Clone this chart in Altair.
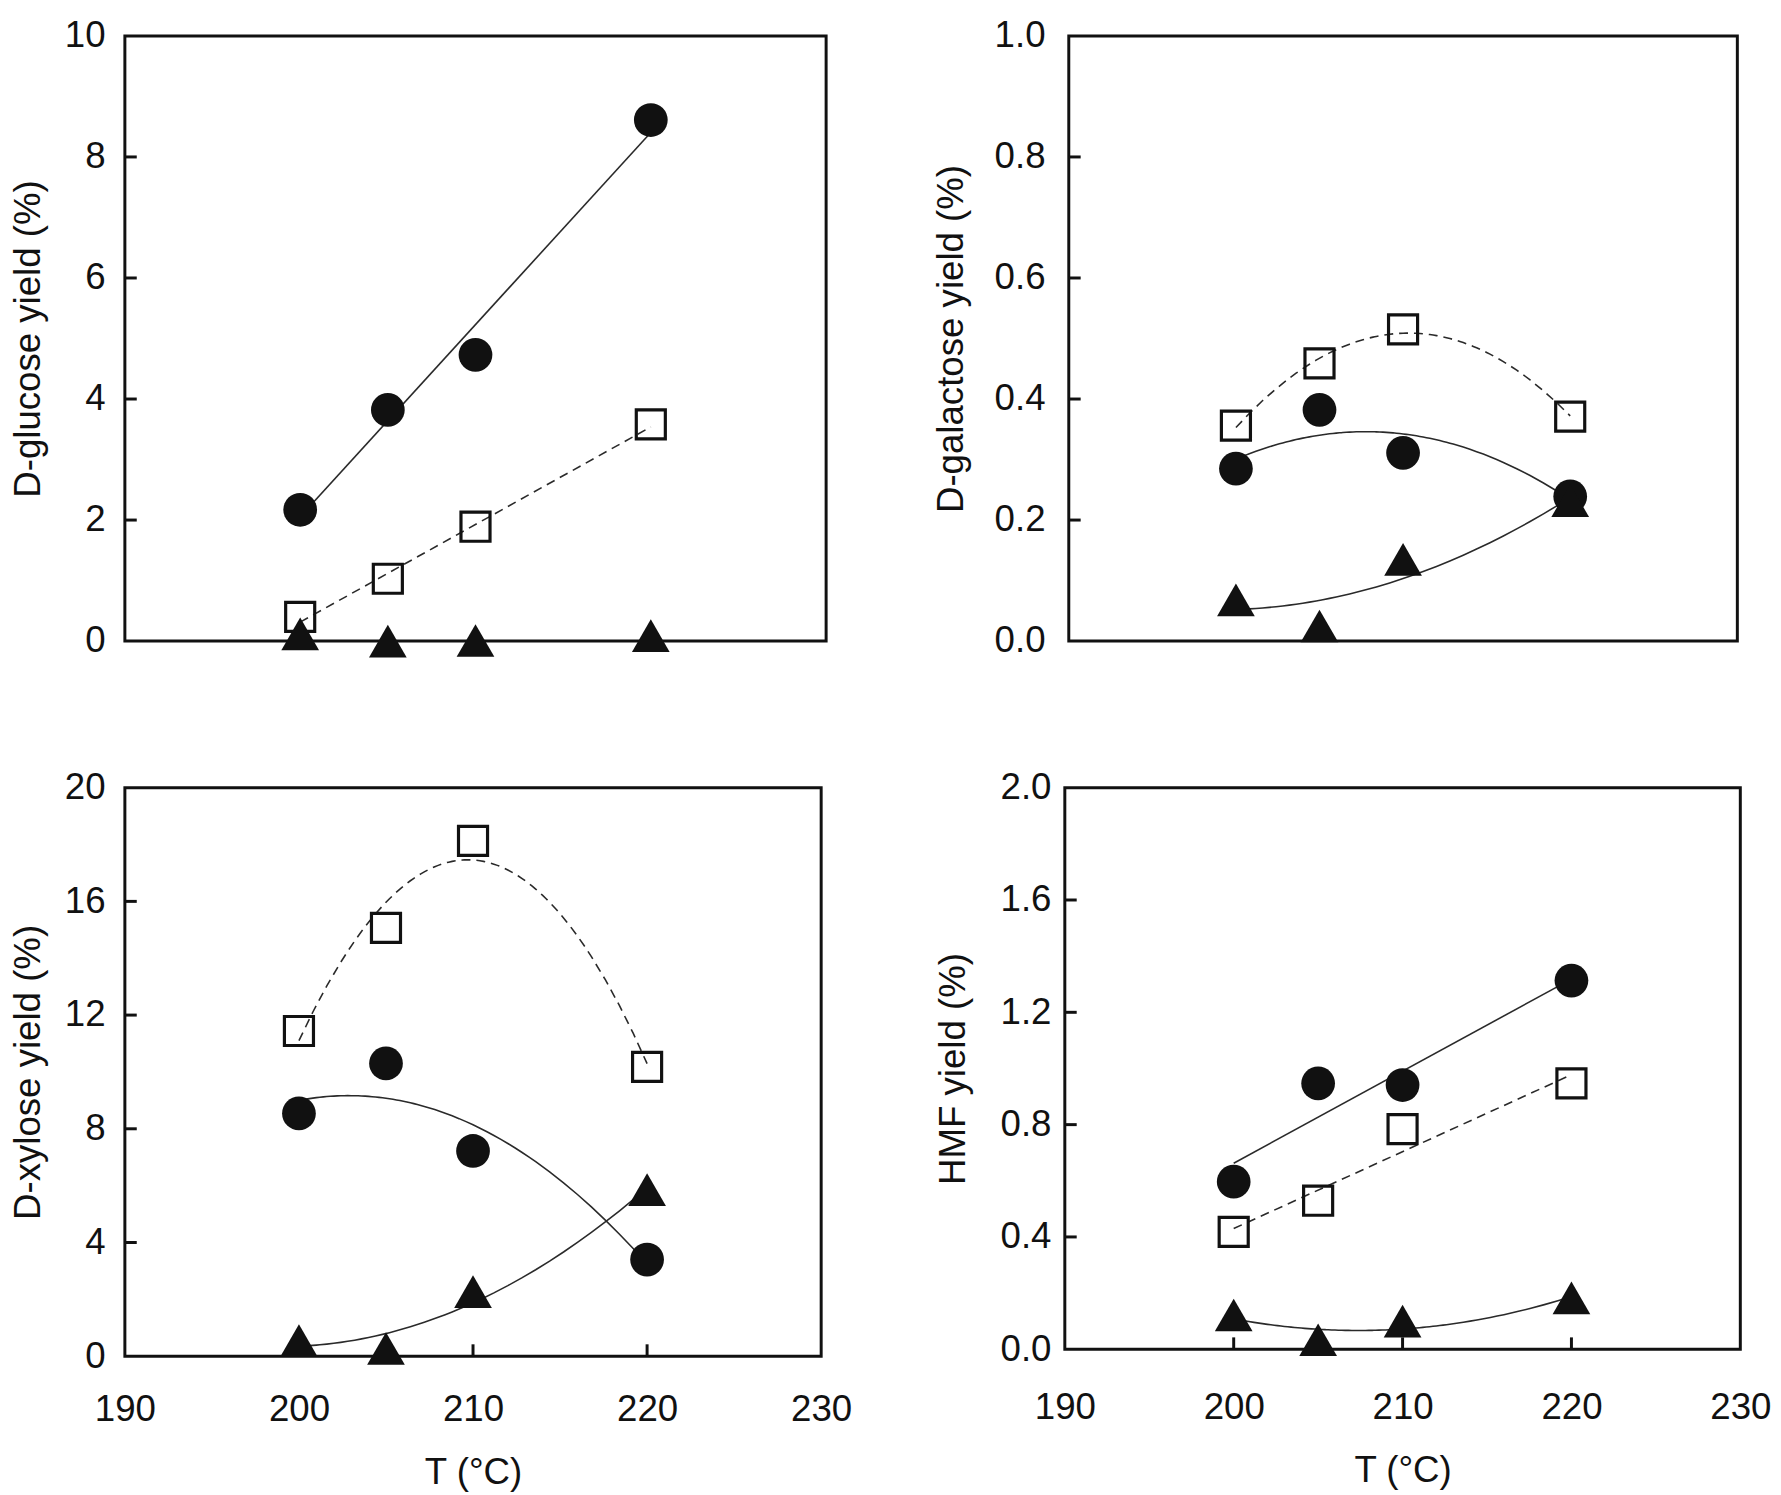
import altair as alt
import pandas as pd

# ---- data ----
T = [200, 205, 210, 220]

glucose_circle = [2.17, 3.82, 4.73, 8.61]
glucose_square = [0.40, 1.03, 1.89, 3.58]
glucose_triangle = [0.12, 0.00, 0.01, 0.09]

galactose_circle = [0.285, 0.382, 0.311, 0.239]
galactose_square = [0.356, 0.459, 0.515, 0.371]
galactose_triangle = [0.068, 0.025, 0.135, 0.232]

xylose_circle = [8.54, 10.30, 7.22, 3.40]
xylose_square = [11.44, 15.07, 18.13, 10.18]
xylose_triangle = [0.55, 0.27, 2.27, 5.86]

hmf_circle = [0.597, 0.947, 0.941, 1.313]
hmf_square = [0.418, 0.529, 0.784, 0.947]
hmf_triangle = [0.122, 0.034, 0.100, 0.183]

x_tick_values = [190, 200, 210, 220, 230]
x_inner_ticks = [200, 210, 220]

glucose_ticks = [0, 2, 4, 6, 8, 10]
galactose_ticks = [0.0, 0.2, 0.4, 0.6, 0.8, 1.0]
xylose_ticks = [0, 4, 8, 12, 16, 20]
hmf_ticks = [0.0, 0.4, 0.8, 1.2, 1.6, 2.0]

FONT = "Liberation Sans"
INK = "#111111"
LINE = "#2a2a2a"
FS = 37


def panel(title, circle, square, triangle, ticks, fmt, fits, width, height,
          show_x, label_pad, title_pad, x_label_pad=36):
    df = pd.DataFrame({
        "T": T * 3,
        "value": circle + square + triangle,
        "series": ["circle"] * 4 + ["square"] * 4 + ["triangle"] * 4,
    })
    xscale = alt.Scale(domain=[190, 230], nice=False, zero=False)
    yscale = alt.Scale(domain=[ticks[0], ticks[-1]], nice=False, zero=False)
    if show_x:
        xaxis = alt.Axis(values=x_tick_values, title="T (°C)", format="d",
                         labelPadding=x_label_pad, titlePadding=28, labelFlush=False)
    else:
        xaxis = None
    yaxis = alt.Axis(values=ticks, format=fmt, title=title,
                     labelPadding=label_pad, titlePadding=title_pad, labelFlush=False)
    x = alt.X("T:Q", scale=xscale, axis=xaxis)
    y = alt.Y("value:Q", scale=yscale, axis=yaxis)
    base = alt.Chart(df)

    layers = []
    for series, method, dashed in fits:
        c = base.transform_filter(alt.datum.series == series)
        if method == "poly":
            c = c.transform_regression("T", "value", method="poly", order=2)
        else:
            c = c.transform_regression("T", "value", method="linear")
        kw = dict(color=LINE, strokeWidth=1.6, clip=False)
        if dashed:
            kw["strokeDash"] = [9, 6]
        layers.append(c.mark_line(**kw).encode(x=x, y=y))

    # inward ticks
    tick_df = pd.DataFrame({"value": ticks[1:-1]})
    layers.append(
        alt.Chart(tick_df).mark_rule(color=INK, strokeWidth=3).encode(
            y=y, x=alt.value(0), x2=alt.value(12))
    )
    if show_x:
        xt_df = pd.DataFrame({"T": x_inner_ticks})
        layers.append(
            alt.Chart(xt_df).mark_rule(color=INK, strokeWidth=3).encode(
                x=x, y=alt.value(height), y2=alt.value(height - 12))
        )

    layers.append(
        base.transform_filter(alt.datum.series == "square")
        .mark_point(shape="square", filled=False, size=860, stroke=INK,
                    strokeWidth=3.2, opacity=1)
        .encode(x=x, y=y)
    )
    layers.append(
        base.transform_filter(alt.datum.series == "circle")
        .mark_point(shape="circle", filled=True, size=1160, color=INK, opacity=1)
        .encode(x=x, y=y)
    )
    layers.append(
        base.transform_filter(alt.datum.series == "triangle")
        .mark_point(shape="triangle-up", filled=True, size=1450, color=INK, opacity=1)
        .encode(x=x, y=y)
    )
    return alt.layer(*layers).properties(width=width, height=height)


tl = panel("D-glucose yield (%)", glucose_circle, glucose_square, glucose_triangle,
           glucose_ticks, "d",
           [("circle", "linear", False), ("square", "linear", True)],
           708, 611, False, 20, 17)
tr = panel("D-galactose yield (%)", galactose_circle, galactose_square, galactose_triangle,
           galactose_ticks, ".1f",
           [("circle", "poly", False), ("square", "poly", True), ("triangle", "poly", False)],
           675, 611, False, 24, 24)
bl = panel("D-xylose yield (%)", xylose_circle, xylose_square, xylose_triangle,
           xylose_ticks, "d",
           [("circle", "poly", False), ("square", "poly", True), ("triangle", "poly", False)],
           703, 574, True, 20, 17, 36)
br = panel("HMF yield (%)", hmf_circle, hmf_square, hmf_triangle,
           hmf_ticks, ".1f",
           [("circle", "linear", False), ("square", "linear", True), ("triangle", "poly", False)],
           682, 567, True, 14, 28, 41)

top = alt.hconcat(tl, tr, spacing=104)
bottom = alt.hconcat(bl, br, spacing=80)
chart = (
    alt.vconcat(top, bottom, spacing=107)
    .properties(padding=0, background="white")
    .configure_view(stroke=INK, strokeWidth=3)
    .configure_axis(
        domain=False, ticks=False, tickSize=0, grid=False,
        labelFont=FONT, labelFontSize=FS, labelColor=INK,
        titleFont=FONT, titleFontSize=FS, titleColor=INK, titleFontWeight="normal",
    )
)

chart.save("out.html", embed_options={"renderer": "svg", "actions": False})
